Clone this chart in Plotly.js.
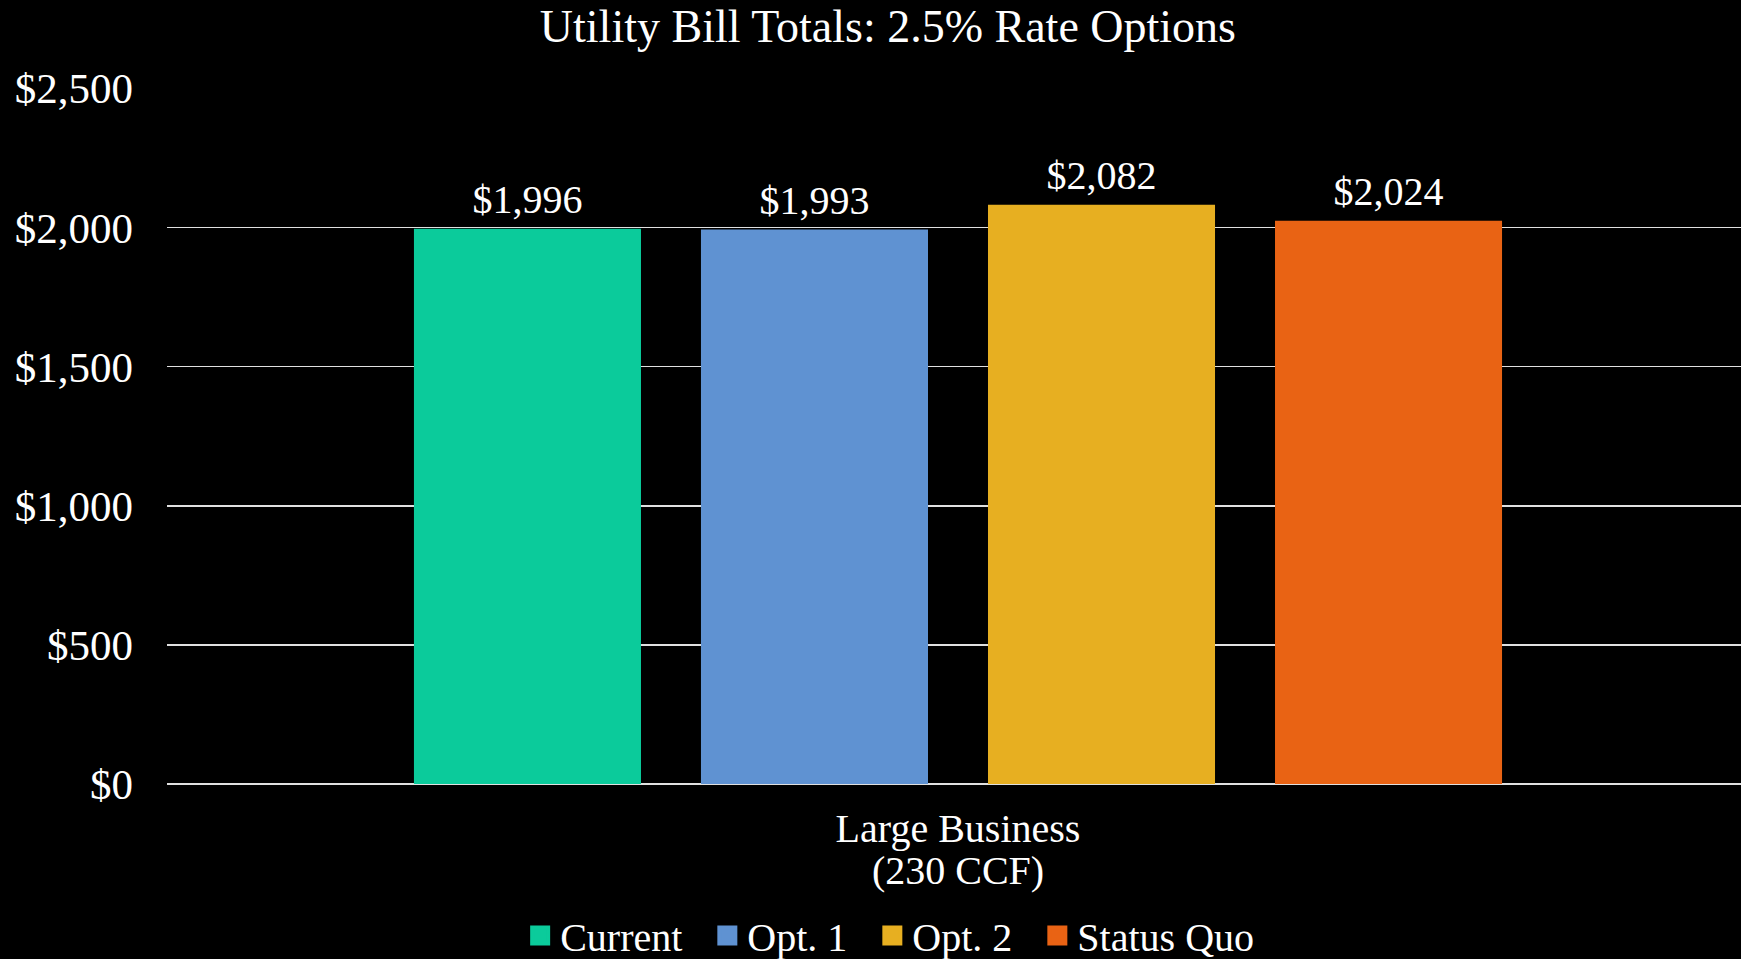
<!DOCTYPE html>
<html><head><meta charset="utf-8">
<script src="https://cdn.plot.ly/plotly-3.0.1.min.js"></script>
<style>html,body{margin:0;padding:0;background:#000;} #chart{width:1741px;height:959px;}</style>
</head><body><div id="chart"></div>
<script>
const categories = ["Large Business (230 CCF)"];
const categoryLabels = ["Large Business<br>(230 CCF)"];
const seriesNames = ["Current", "Opt. 1", "Opt. 2", "Status Quo"];
const seriesValues = [1996, 1993, 2082, 2024];
const seriesColors = ["#0BCB9B", "#5F92D2", "#E7AF21", "#E96314"];
const yTickValues = [0, 500, 1000, 1500, 2000, 2500];
const yTickLabels = ["$0", "$500", "$1,000", "$1,500", "$2,000", "$2,500"];

const FONT = "Liberation Serif, Times New Roman, serif";
const LEGEND_PAD = "\u2002";

const traces = [];
seriesNames.forEach((name, i) => {
  traces.push({
    type: 'bar', name: name, x: categories, y: [seriesValues[i]],
    marker: {color: seriesColors[i]},
    texttemplate: "<span style='font-size:40px'>$%{y:,.0f}</span><br>\u00a0",
    textposition: 'outside',
    textfont: {family: FONT, size: 8, color: '#ffffff'},
    cliponaxis: false, showlegend: false, hoverinfo: 'skip'
  });
});
seriesNames.forEach((name, i) => {
  traces.push({
    type: 'scatter', mode: 'markers',
    name: i < seriesNames.length - 1 ? name + LEGEND_PAD : name,
    x: [null], y: [null],
    marker: {symbol: 'square', size: 16, color: seriesColors[i], line: {width: 4, color: seriesColors[i]}},
    showlegend: true, hoverinfo: 'skip'
  });
});

const tickText = categoryLabels.map(s => s.split('<br>').map(p => "<span style='font-size:40px'>" + p + "</span>").join('<br>'));

const layout = {
  width: 1741, height: 959,
  paper_bgcolor: '#000000', plot_bgcolor: '#000000',
  margin: {l: 167, r: 0, t: 88, b: 175, pad: 0},
  font: {family: FONT, color: '#ffffff', size: 40},
  title: {
    text: 'Utility Bill Totals: 2.5% Rate Options',
    font: {family: FONT, size: 46, color: '#ffffff'},
    x: 0.51, xref: 'container', xanchor: 'center',
    y: 0.973, yref: 'container', yanchor: 'middle'
  },
  barmode: 'group', bargap: 0.2706, bargroupgap: 0.209,
  xaxis: {
    type: 'category', range: [-0.50254, 0.49746],
    tickvals: categories, ticktext: tickText,
    showgrid: false, zeroline: false, showline: false, ticks: '',
    tickfont: {family: FONT, size: 32, color: '#ffffff'},
    ticklabelstandoff: 25,
    fixedrange: true
  },
  yaxis: {
    range: [0, 2501.5], tickvals: yTickValues, ticktext: yTickLabels,
    showgrid: true, gridcolor: '#e0e0e0', gridwidth: 1.5,
    zeroline: true, zerolinecolor: '#e0e0e0', zerolinewidth: 1.5,
    showline: false, ticks: '',
    tickfont: {family: FONT, size: 43, color: '#ffffff'},
    ticklabelstandoff: 33, fixedrange: true
  },
  legend: {
    orientation: 'h', xref: 'container', x: 0.511, xanchor: 'center',
    yref: 'container', y: 0.0245, yanchor: 'middle',
    font: {family: FONT, size: 40, color: '#ffffff'},
    bgcolor: 'rgba(0,0,0,0)', itemclick: false, itemdoubleclick: false
  },
  showlegend: true
};

Plotly.newPlot('chart', traces, layout, {displayModeBar: false, staticPlot: true});
</script>
</body></html>
